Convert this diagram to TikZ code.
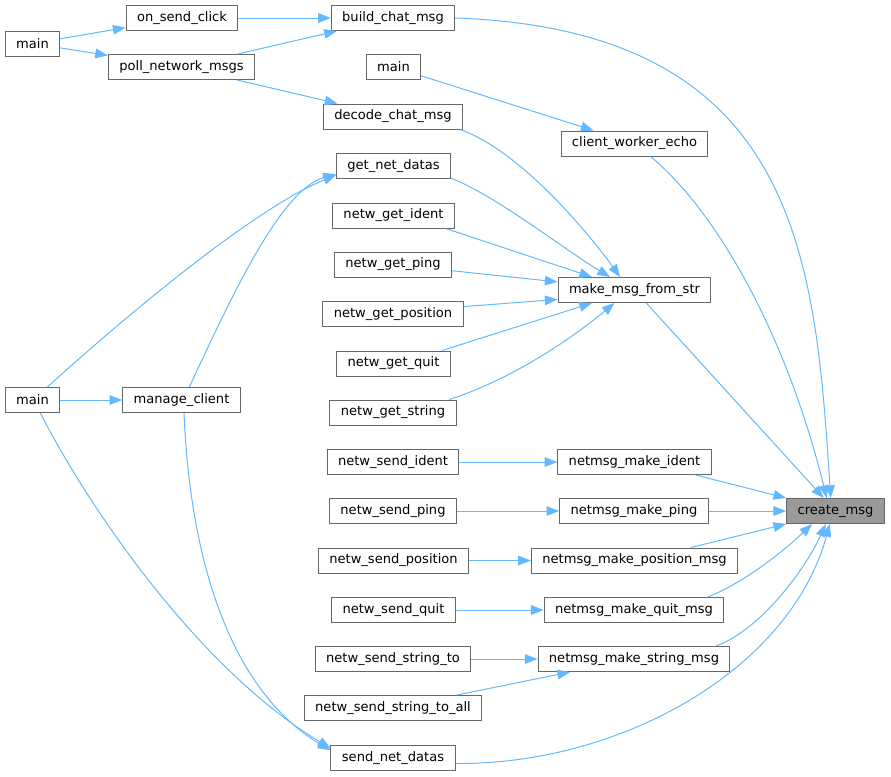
\documentclass[tikz,border=0pt]{standalone}
\usepackage{fontspec}
\setmainfont{DejaVu Sans}
\usetikzlibrary{arrows.meta}

\definecolor{edgeblue}{HTML}{63B8FF}
\definecolor{boxgray}{HTML}{666666}
\definecolor{rootgray}{HTML}{999999}

\tikzset{every picture/.style={line width=0.75pt}}
\tikzset{
  fnbox/.style={draw=boxgray, fill=white, minimum height=18.75pt, inner xsep=8.2pt, inner ysep=0pt, font=\fontsize{9.8}{11}\selectfont},
  rootbox/.style={fnbox, fill=rootgray},
  call/.style={draw=edgeblue, -{Triangle[length=9.5pt,width=7.2pt]}}
}

\begin{document}
\begin{tikzpicture}[x=0.75pt,y=0.75pt,yscale=-1,xscale=1]
	\useasboundingbox (0,0) rectangle (891,776);

	% Text Node
	\node [fnbox] (main1) at (32.5,43.5) {main};
	% Text Node
	\node [fnbox] (sendclick) at (182,18) {on\_send\_click};
	% Text Node
	\node [fnbox] (pollmsgs) at (181.5,67) {poll\_network\_msgs};
	% Text Node
	\node [fnbox] (main3) at (32.5,400) {main};
	% Text Node
	\node [fnbox] (manageclient) at (181.5,400) {manage\_client};

	% Text Node
	\node [fnbox] (buildchat) at (393,18) {build\_chat\_msg};
	% Text Node
	\node [fnbox] (main2) at (393.5,67) {main};
	% Text Node
	\node [fnbox] (decodechat) at (393,116.5) {decode\_chat\_msg};
	% Text Node
	\node [fnbox] (getnetdatas) at (393.5,166) {get\_net\_datas};
	% Text Node
	\node [fnbox] (getident) at (393.5,215.5) {netw\_get\_ident};
	% Text Node
	\node [fnbox] (getping) at (393,264.5) {netw\_get\_ping};
	% Text Node
	\node [fnbox] (getposition) at (393,314) {netw\_get\_position};
	% Text Node
	\node [fnbox] (getquit) at (393.5,363.5) {netw\_get\_quit};
	% Text Node
	\node [fnbox] (getstring) at (393,412.5) {netw\_get\_string};
	% Text Node
	\node [fnbox] (sendident) at (393,462) {netw\_send\_ident};
	% Text Node
	\node [fnbox] (sendping) at (393,511) {netw\_send\_ping};
	% Text Node
	\node [fnbox] (sendposition) at (393.5,560.5) {netw\_send\_position};
	% Text Node
	\node [fnbox] (sendquit) at (393.5,610) {netw\_send\_quit};
	% Text Node
	\node [fnbox] (sendstringto) at (393,659) {netw\_send\_string\_to};
	% Text Node
	\node [fnbox] (sendstringall) at (393,708) {netw\_send\_string\_to\_all};
	% Text Node
	\node [fnbox] (sendnetdatas) at (393,758) {send\_net\_datas};

	% Text Node
	\node [fnbox] (workerecho) at (634.5,143.5) {client\_worker\_echo};
	% Text Node
	\node [fnbox] (makefromstr) at (634.5,290) {make\_msg\_from\_str};
	% Text Node
	\node [fnbox] (makeident) at (634.5,462) {netmsg\_make\_ident};
	% Text Node
	\node [fnbox] (makeping) at (634,511) {netmsg\_make\_ping};
	% Text Node
	\node [fnbox] (makeposition) at (634.5,560.5) {netmsg\_make\_position\_msg};
	% Text Node
	\node [fnbox] (makequit) at (634,610) {netmsg\_make\_quit\_msg};
	% Text Node
	\node [fnbox] (makestring) at (634,659) {netmsg\_make\_string\_msg};

	% Text Node
	\node [rootbox] (createmsg) at (835.5,511) {create\_msg};

	%Straight Lines
	\draw [call] (main1) -- (sendclick);
	\draw [call] (main1) -- (pollmsgs);
	\draw [call] (sendclick) -- (buildchat);
	\draw [call] (pollmsgs) -- (buildchat);
	\draw [call] (pollmsgs) -- (decodechat);
	\draw [call] (main2) -- (workerecho);
	\draw [call] (main3) -- (manageclient);
	%Curve Lines
	\draw [call] (main3.41) .. controls (110,330) and (250,210) .. (getnetdatas.189);
	\draw [call] (manageclient.59) .. controls (230,300) and (280,190) .. (getnetdatas.188);
	\draw [call] (main3.-59) .. controls (90,510) and (200,670) .. (sendnetdatas.171);
	\draw [call] (manageclient.-79) .. controls (190,560) and (230,690) .. (sendnetdatas.173);

	%Curve Lines
	\draw [call] (decodechat.-11) .. controls (520,150) and (590,235) .. (makefromstr.138);
	\draw [call] (getnetdatas.-12) .. controls (495,195) and (565,250) .. (makefromstr.152);
	\draw [call] (getstring.13) .. controls (510,380) and (570,340) .. (makefromstr.213);
	%Straight Lines
	\draw [call] (getident.-14) -- (makefromstr.163);
	\draw [call] (getping.-6) -- (makefromstr.174);
	\draw [call] (getposition.6) -- (makefromstr.187);
	\draw [call] (getquit.15) -- (makefromstr.197);

	%Straight Lines
	\draw [call] (sendident) -- (makeident);
	\draw [call] (sendping) -- (makeping);
	\draw [call] (sendposition) -- (makeposition);
	\draw [call] (sendquit) -- (makequit);
	\draw [call] (sendstringto) -- (makestring);
	\draw [call] (sendstringall) -- (makestring);

	%Curve Lines
	\draw [call] (buildchat.east) .. controls (800,30) and (815,260) .. (createmsg.110);
	\draw [call] (workerecho.-39) .. controls (715,210) and (785,330) .. (createmsg.124);
	\draw [call] (makequit.10) .. controls (750,580) and (790,545) .. (createmsg.-151);
	\draw [call] (makestring.9) .. controls (760,630) and (805,570) .. (createmsg.-127);
	\draw [call] (sendnetdatas.-5) .. controls (620,765) and (790,670) .. (createmsg.-114);
	%Straight Lines
	\draw [call] (makefromstr) -- (createmsg);
	\draw [call] (makeident.-12) -- (createmsg.north west);
	\draw [call] (makeping) -- (createmsg);
	\draw [call] (makeposition.13) -- (createmsg.south west);

\end{tikzpicture}
\end{document}
